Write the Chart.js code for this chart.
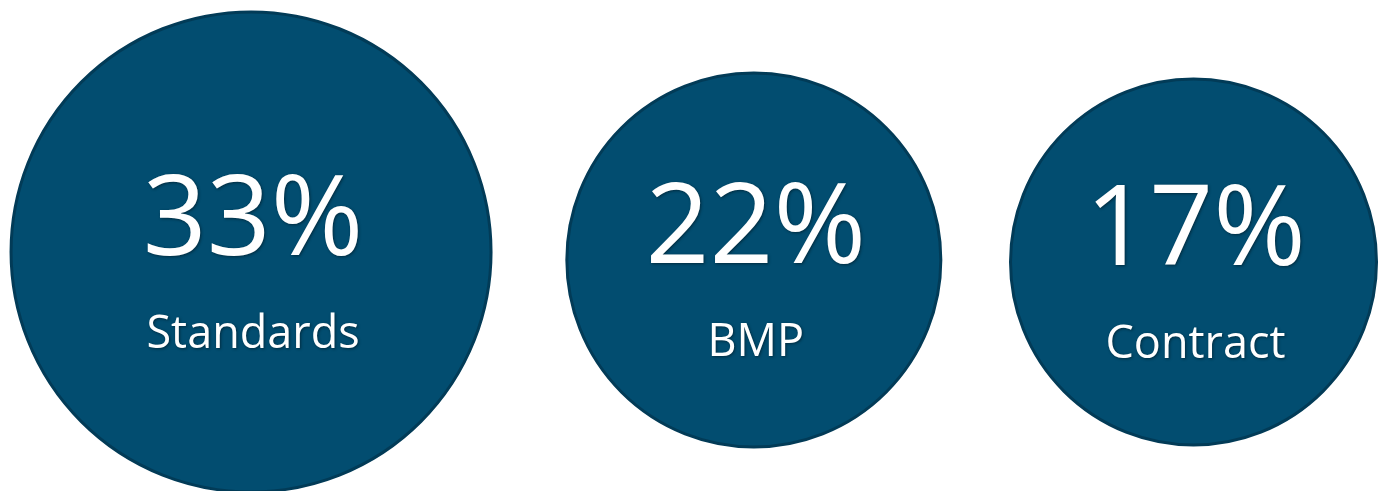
<!DOCTYPE html>
<html>
<head>
<meta charset="utf-8">
<script src="https://cdn.jsdelivr.net/npm/chart.js@4/dist/chart.umd.min.js"></script>
<style>
  html, body { margin: 0; padding: 0; background: #ffffff; }
  #wrap { width: 1387px; height: 491px; }
</style>
</head>
<body>
<div id="wrap"><canvas id="chart" width="1387" height="491"></canvas></div>
<script>
const categories = ["Standards", "BMP", "Contract"];
const shares = [33, 22, 17];

// layout (percent of the canvas) and bubble sizes in px
const centerX = [18.1, 54.35, 86.05];
const centerY = [51.3, 52.95, 53.35];
const bubbleSize = [240, 187, 183];

const fillColor = "#024d70";
const edgeColor = "#023b57";

const bubbleLabels = {
  id: "bubbleLabels",
  afterDatasetsDraw: (chart) => {
    const ctx = chart.ctx;
    const meta = chart.getDatasetMeta(0);
    ctx.save();
    ctx.fillStyle = "#ffffff";
    ctx.textAlign = "center";
    ctx.textBaseline = "alphabetic";
    ctx.shadowColor = "rgba(0, 0, 0, 0.45)";
    ctx.shadowBlur = 3;
    ctx.shadowOffsetX = 1;
    ctx.shadowOffsetY = 1.5;
    meta.data.forEach((pt, i) => {
      ctx.font = "112px 'Open Sans'";
      ctx.fillText(shares[i] + "%", pt.x + 2, pt.y + 3);
      ctx.font = "45px 'Open Sans'";
      ctx.fillText(categories[i], pt.x + 2, pt.y + 96);
    });
    ctx.restore();
  },
};

const chart = new Chart(document.getElementById("chart"), {
  type: "bubble",
  data: {
    labels: categories,
    datasets: [
      {
        data: shares.map((v, i) => ({ x: centerX[i], y: centerY[i], r: bubbleSize[i], v: v })),
        backgroundColor: fillColor,
        borderColor: edgeColor,
        borderWidth: 3,
        hoverRadius: 0,
        clip: false,
      },
    ],
  },
  options: {
    responsive: false,
    animation: false,
    events: [],
    layout: { padding: 0, autoPadding: false },
    plugins: {
      legend: { display: false },
      tooltip: { enabled: false },
    },
    scales: {
      x: { type: "linear", min: 0, max: 100, display: false },
      y: { type: "linear", min: 0, max: 100, reverse: true, display: false },
    },
  },
  plugins: [bubbleLabels],
});
</script>
</body>
</html>
